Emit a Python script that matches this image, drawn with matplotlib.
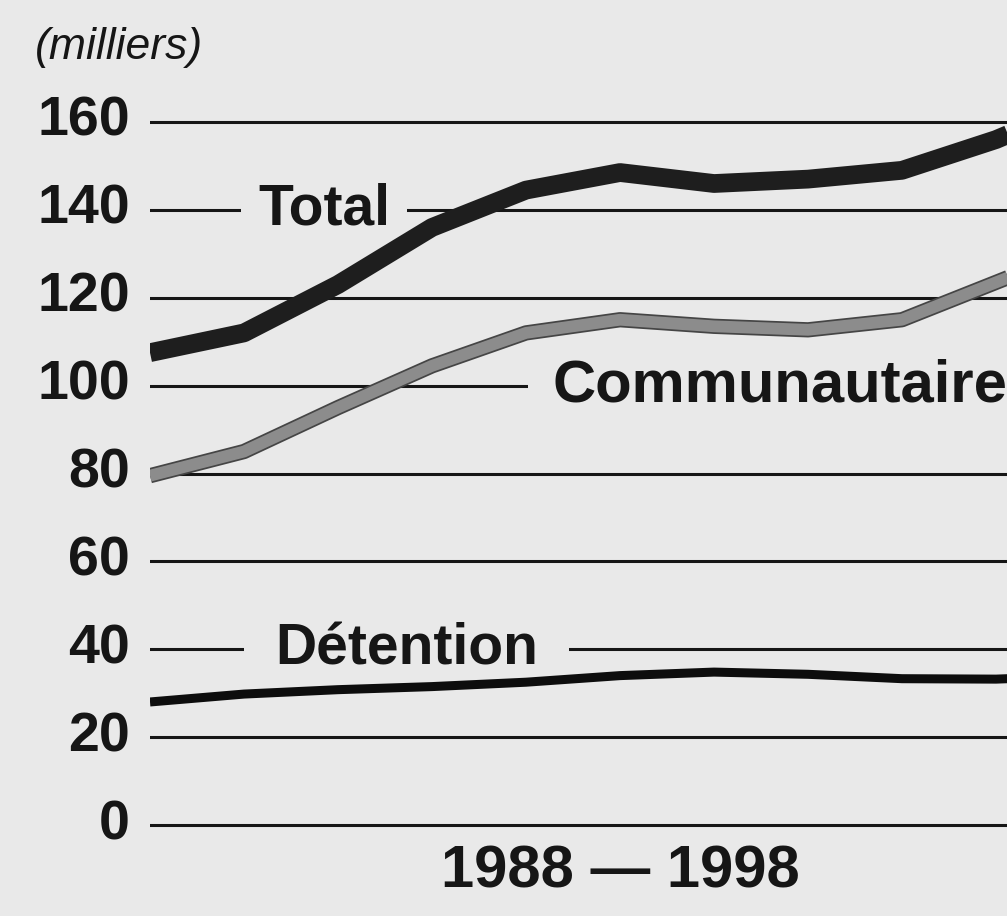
import matplotlib
matplotlib.use("Agg")
from matplotlib import pyplot as plt
import matplotlib.patheffects as pe

years = [1988, 1989, 1990, 1991, 1992, 1993, 1994, 1995, 1996, 1997, 1998]
total = [107.5, 112, 123, 136, 144.5, 148.5, 146, 147, 149, 156, 165]
communautaire = [79.5, 85, 95, 104.5, 112, 115, 113.5, 112.7, 115, 123.5, 132]
detention = [28, 29.8, 30.8, 31.5, 32.5, 34, 34.8, 34.3, 33.3, 33.2, 34]
yticks = [0, 20, 40, 60, 80, 100, 120, 140, 160]

paper = "#e9e9e9"
ink = "#161616"
plt.rcParams['font.family'] = ['Liberation Sans', 'DejaVu Sans']

fig = plt.figure(figsize=(10.07, 9.16), dpi=100, facecolor=paper)
ax = fig.add_axes([150 / 1007, 0, 1 - 150 / 1007, 1])
ax.set_facecolor(paper)
px = 703 / 160  # pixels per unit
ax.set_ylim(-91 / px, 825 / px)
ax.set_xlim(1988, 1988 + (1007 - 150) / 94)
ax.axis('off')

# gridlines + y labels
for v in yticks:
    ax.axhline(v, color=ink, lw=2.2, zorder=1)
    fig.text(130 / 1007, (916 - (825 - v * px)) / 916, str(v), ha='right', va='center',
             fontsize=40, fontweight='bold', color=ink)

# series labels, with gaps cut in the gridlines
ax.text(1988 + (258 - 150) / 94, 140, "Total", fontsize=41, fontweight='bold',
        color=ink, va='center', ha='left',
        bbox=dict(facecolor=paper, edgecolor='none', pad=12), zorder=2)
ax.text(1988 + (553 - 150) / 94, 100, "Communautaire", fontsize=43, fontweight='bold',
        color=ink, va='center', ha='left',
        bbox=dict(facecolor=paper, edgecolor='none', pad=18), zorder=2)
ax.text(1988 + (275 - 150) / 94, 40, "Détention", fontsize=41, fontweight='bold',
        color=ink, va='center', ha='left',
        bbox=dict(facecolor=paper, edgecolor='none', pad=22), zorder=2)

ax.plot(years, total, color="#1e1e1e", lw=13.5, solid_capstyle='butt', solid_joinstyle='round', zorder=4)
ax.plot(years, communautaire, color="#8c8c8c", lw=8.5, solid_capstyle='butt', solid_joinstyle='round', zorder=3,
        path_effects=[pe.Stroke(linewidth=11, foreground="#454545"), pe.Normal()])
ax.plot(years, detention, color="#0d0d0d", lw=6.5, solid_capstyle='butt', solid_joinstyle='round', zorder=3)

fig.text(35 / 1007, (916 - 48) / 916, "(milliers)", fontsize=32, style='italic',
         color=ink, ha='left', va='center')
fig.text(620 / 1007, (916 - 872) / 916, "1988 — 1998", fontsize=43, fontweight='bold',
         color=ink, ha='center', va='center')

fig.savefig("out.png", dpi=100, facecolor=paper)
